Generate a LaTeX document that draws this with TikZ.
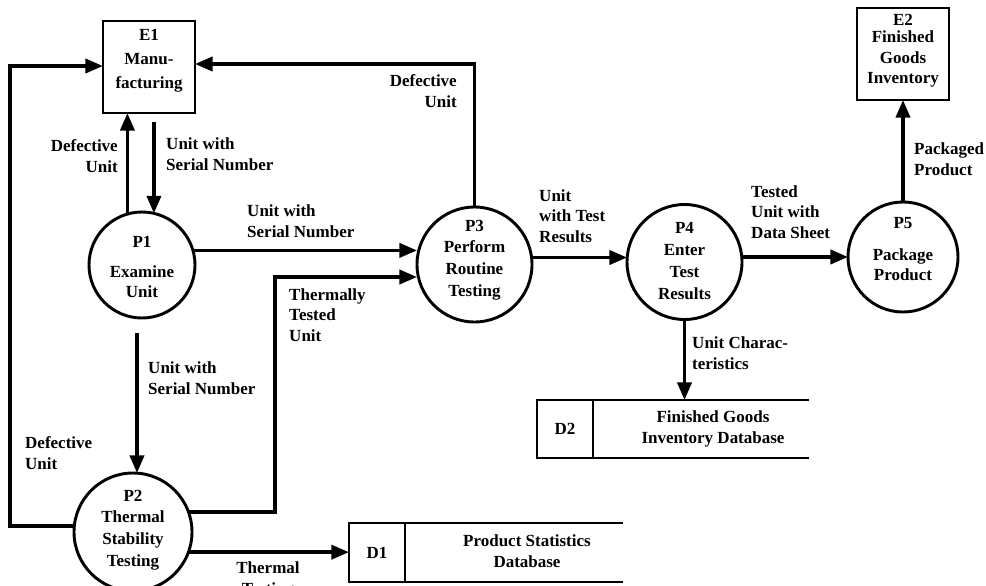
\documentclass[tikz,border=0pt]{standalone}
\usepackage{fontspec}
\setmainfont{Liberation Serif}
\usetikzlibrary{arrows.meta,calc}
\begin{document}
\begin{tikzpicture}[x=0.03cm,y=-0.03cm,
  font=\fontsize{14.5}{17.5}\selectfont\bfseries,
  proc/.style={circle,draw,line width=2.5pt,inner sep=0pt,outer sep=0pt},
  ent/.style={rectangle,draw,line width=2.5pt,inner sep=0pt,outer sep=0pt,minimum width={92*0.3mm},minimum height={92*0.3mm}},
  store/.style={rectangle,draw,line width=2.5pt,inner sep=0pt,outer sep=0pt,minimum width={56*0.3mm}},
  txt/.style={inner sep=0pt,align=center},
  lbl/.style={inner sep=0pt,align=left,anchor=west},
  rlbl/.style={inner sep=0pt,align=right,anchor=east},
  flow/.style={line width=3pt,-{Triangle[length=15pt,width=12pt]}},
  edge/.style={line width=2.5pt}]
\useasboundingbox (0,0) rectangle (986,585);

% entities
\node[ent] (E1) at (149,67) {};
\node[txt] (E1t) at (149,61) {E1\\[3pt]Manu-\\[3pt]facturing};
\node[ent] (E2) at (903,54) {};
\node[txt] (E2t) at (903,51) {E2\\[-3pt]Finished\\[0pt]Goods\\[0pt]Inventory};

% processes
\node[proc,minimum size={106*0.3mm}] (P1) at (142,265) {};
\node[txt] (P1t) at (142,267) {P1\\[8pt]Examine\\Unit};
\node[proc,minimum size={118*0.3mm}] (P2) at (133,532) {};
\node[txt] (P2t) at (133,530) {P2\\[1pt]Thermal\\[1pt]Stability\\[1pt]Testing};
\node[proc,minimum size={115*0.3mm}] (P3) at (474.5,264.5) {};
\node[txt] (P3t) at (474.5,260) {P3\\[1pt]Perform\\[1pt]Routine\\[1pt]Testing};
\node[proc,minimum size={115*0.3mm}] (P4) at (684.5,262) {};
\node[txt] (P4t) at (684.5,261) {P4\\[1pt]Enter\\[1pt]Test\\[1pt]Results};
\node[proc,minimum size={110*0.3mm}] (P5) at (903,257) {};
\node[txt] (P5t) at (903,249) {P5\\[10pt]Package\\Product};

% data stores
\node[store,minimum height={59*0.3mm}] (D1) at (377,552.5) {D1};
\coordinate (D1r) at (623,552.5);
\draw[edge] (D1.north east) -- (D1.north east -| D1r);
\draw[edge] (D1.south east) -- (D1.south east -| D1r);
\node[txt] (D1t) at (527,551) {Product Statistics\\Database};

\node[store,minimum height={58*0.3mm}] (D2) at (565,429) {D2};
\coordinate (D2r) at (809,429);
\draw[edge] (D2.north east) -- (D2.north east -| D2r);
\draw[edge] (D2.south east) -- (D2.south east -| D2r);
\node[txt] (D2t) at (713,429) {Finished Goods\\Inventory Database};

% flows
\draw[flow] (P1.106) -- (P1.106 |- E1.south);
\coordinate (a1) at ($(E1.south -| P1.77)+(0,9)$);
\draw[flow] (a1) -- (P1.77);
\draw[flow] (P1.16) -- (P1.16 -| P3.west);
\coordinate (T) at (275,277);
\draw[flow] (P2.20) -| (T) -- (T -| P3.west);
\coordinate (a2) at ($(P1.south)+(-5,15)$);
\draw[flow] (a2) -- (a2 |- P2.north);
\coordinate (L) at (10,66);
\draw[flow] (P2.174) -| (L) -- (L -| E1.west);
\draw[flow] (P2.-20) -- (P2.-20 -| D1.west);
\coordinate (R) at ($(E1.east)+(0,-3)$);
\draw[flow] (P3.north) |- (R);
\draw[flow] (P3.7.5) -- (P3.7.5 -| P4.west);
\draw[flow] (P4.5) -- (P4.5 -| P5.west);
\draw[flow] (P5.north) -- (E2.south);
\draw[flow] (P4.south) -- (P4.south |- D2.north);

% labels
\node[rlbl] (l1) at (118,156) {Defective\\Unit};
\node[lbl] (l2) at (166,154) {Unit with\\Serial Number};
\node[rlbl] (l3) at (457,91) {Defective\\Unit};
\node[lbl] (l4) at (247,221) {Unit with\\Serial Number};
\node[lbl] (l5) at (289,315) {Thermally\\Tested\\Unit};
\node[lbl] (l6) at (148,378) {Unit with\\Serial Number};
\node[lbl] (l7) at (25,453) {Defective\\Unit};
\node[txt] (l8) at (268,580) {Thermal\\Testing};
\node[lbl] (l9) at (539,216) {Unit\\with Test\\Results};
\node[lbl] (l10) at (751,212) {Tested\\Unit with\\Data Sheet};
\node[lbl] (l11) at (914,159) {Packaged\\Product};
\node[lbl] (l12) at (692,353) {Unit Charac-\\teristics};
\end{tikzpicture}
\end{document}
